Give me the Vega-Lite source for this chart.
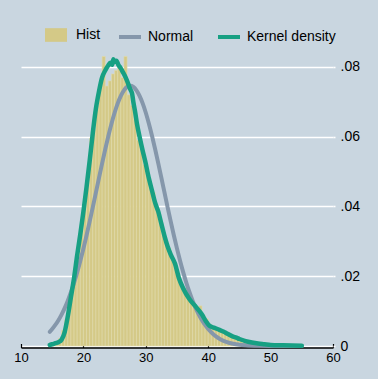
{
  "$schema": "https://vega.github.io/schema/vega-lite/v6.json",
  "width": 312,
  "height": 300,
  "autosize": {"type": "none"},
  "padding": {"left": 21, "top": 46, "right": 45, "bottom": 33},
  "background": "#c9d6e0",
  "config": {
    "view": {"stroke": null},
    "font": "Liberation Sans"
  },
  "datasets": {
    "hist": [
      {"x0": 14.5, "x1": 15.0, "density": 0.0004},
      {"x0": 15.0, "x1": 15.5, "density": 0.0008},
      {"x0": 15.5, "x1": 16.0, "density": 0.0012},
      {"x0": 16.0, "x1": 16.5, "density": 0.0022},
      {"x0": 16.5, "x1": 17.0, "density": 0.0045},
      {"x0": 17.0, "x1": 17.5, "density": 0.0075},
      {"x0": 17.5, "x1": 18.0, "density": 0.012},
      {"x0": 18.0, "x1": 18.5, "density": 0.0165},
      {"x0": 18.5, "x1": 19.0, "density": 0.022},
      {"x0": 19.0, "x1": 19.5, "density": 0.028},
      {"x0": 19.5, "x1": 20.0, "density": 0.034},
      {"x0": 20.0, "x1": 20.5, "density": 0.041},
      {"x0": 20.5, "x1": 21.0, "density": 0.048},
      {"x0": 21.0, "x1": 21.5, "density": 0.0596},
      {"x0": 21.5, "x1": 22.0, "density": 0.062},
      {"x0": 22.0, "x1": 22.5, "density": 0.069},
      {"x0": 22.5, "x1": 23.0, "density": 0.074},
      {"x0": 23.0, "x1": 23.5, "density": 0.083},
      {"x0": 23.5, "x1": 24.0, "density": 0.0745},
      {"x0": 24.0, "x1": 24.5, "density": 0.076},
      {"x0": 24.5, "x1": 25.0, "density": 0.078},
      {"x0": 25.0, "x1": 25.5, "density": 0.079},
      {"x0": 25.5, "x1": 26.0, "density": 0.080},
      {"x0": 26.0, "x1": 26.5, "density": 0.077},
      {"x0": 26.5, "x1": 27.0, "density": 0.083},
      {"x0": 27.0, "x1": 27.5, "density": 0.072},
      {"x0": 27.5, "x1": 28.0, "density": 0.069},
      {"x0": 28.0, "x1": 28.5, "density": 0.065},
      {"x0": 28.5, "x1": 29.0, "density": 0.059},
      {"x0": 29.0, "x1": 29.5, "density": 0.057},
      {"x0": 29.5, "x1": 30.0, "density": 0.052},
      {"x0": 30.0, "x1": 30.5, "density": 0.050},
      {"x0": 30.5, "x1": 31.0, "density": 0.046},
      {"x0": 31.0, "x1": 31.5, "density": 0.044},
      {"x0": 31.5, "x1": 32.0, "density": 0.040},
      {"x0": 32.0, "x1": 32.5, "density": 0.036},
      {"x0": 32.5, "x1": 33.0, "density": 0.032},
      {"x0": 33.0, "x1": 33.5, "density": 0.030},
      {"x0": 33.5, "x1": 34.0, "density": 0.028},
      {"x0": 34.0, "x1": 34.5, "density": 0.025},
      {"x0": 34.5, "x1": 35.0, "density": 0.023},
      {"x0": 35.0, "x1": 35.5, "density": 0.020},
      {"x0": 35.5, "x1": 36.0, "density": 0.017},
      {"x0": 36.0, "x1": 36.5, "density": 0.0165},
      {"x0": 36.5, "x1": 37.0, "density": 0.015},
      {"x0": 37.0, "x1": 37.5, "density": 0.0135},
      {"x0": 37.5, "x1": 38.0, "density": 0.012},
      {"x0": 38.0, "x1": 38.5, "density": 0.0112},
      {"x0": 38.5, "x1": 39.0, "density": 0.0115},
      {"x0": 39.0, "x1": 39.5, "density": 0.0088},
      {"x0": 39.5, "x1": 40.0, "density": 0.0078},
      {"x0": 40.0, "x1": 40.5, "density": 0.0062},
      {"x0": 40.5, "x1": 41.0, "density": 0.0056},
      {"x0": 41.0, "x1": 41.5, "density": 0.0051},
      {"x0": 41.5, "x1": 42.0, "density": 0.0045},
      {"x0": 42.0, "x1": 42.5, "density": 0.0041},
      {"x0": 42.5, "x1": 43.0, "density": 0.0037},
      {"x0": 43.0, "x1": 43.5, "density": 0.0032},
      {"x0": 43.5, "x1": 44.0, "density": 0.0028},
      {"x0": 44.0, "x1": 44.5, "density": 0.0024},
      {"x0": 44.5, "x1": 45.0, "density": 0.0019},
      {"x0": 45.0, "x1": 45.5, "density": 0.0016},
      {"x0": 45.5, "x1": 46.0, "density": 0.0013},
      {"x0": 46.0, "x1": 46.5, "density": 0.0011},
      {"x0": 46.5, "x1": 47.0, "density": 0.0009},
      {"x0": 47.0, "x1": 47.5, "density": 0.0007},
      {"x0": 47.5, "x1": 48.0, "density": 0.0006},
      {"x0": 48.0, "x1": 48.5, "density": 0.0005},
      {"x0": 48.5, "x1": 49.0, "density": 0.0004},
      {"x0": 49.0, "x1": 49.5, "density": 0.0003},
      {"x0": 49.5, "x1": 50.0, "density": 0.0002},
      {"x0": 50.0, "x1": 50.5, "density": 0.0002},
      {"x0": 51.0, "x1": 51.5, "density": 0.0001},
      {"x0": 52.5, "x1": 53.0, "density": 0.0001},
      {"x0": 54.5, "x1": 55.0, "density": 0.0001}
    ],
    "normal": [
      {"x": 14.6, "y": 0.00407},
      {"x": 15.0, "y": 0.00487},
      {"x": 15.5, "y": 0.00603},
      {"x": 16.0, "y": 0.00740},
      {"x": 16.5, "y": 0.00901},
      {"x": 17.0, "y": 0.01087},
      {"x": 17.5, "y": 0.01300},
      {"x": 18.0, "y": 0.01541},
      {"x": 18.5, "y": 0.01812},
      {"x": 19.0, "y": 0.02111},
      {"x": 19.5, "y": 0.02438},
      {"x": 20.0, "y": 0.02791},
      {"x": 20.5, "y": 0.03168},
      {"x": 21.0, "y": 0.03565},
      {"x": 21.5, "y": 0.03976},
      {"x": 22.0, "y": 0.04396},
      {"x": 22.5, "y": 0.04818},
      {"x": 23.0, "y": 0.05235},
      {"x": 23.5, "y": 0.05639},
      {"x": 24.0, "y": 0.06021},
      {"x": 24.5, "y": 0.06372},
      {"x": 25.0, "y": 0.06686},
      {"x": 25.5, "y": 0.06954},
      {"x": 26.0, "y": 0.07170},
      {"x": 26.5, "y": 0.07328},
      {"x": 27.0, "y": 0.07425},
      {"x": 27.5, "y": 0.07457},
      {"x": 28.0, "y": 0.07425},
      {"x": 28.5, "y": 0.07328},
      {"x": 29.0, "y": 0.07170},
      {"x": 29.5, "y": 0.06954},
      {"x": 30.0, "y": 0.06686},
      {"x": 30.5, "y": 0.06372},
      {"x": 31.0, "y": 0.06021},
      {"x": 31.5, "y": 0.05639},
      {"x": 32.0, "y": 0.05235},
      {"x": 32.5, "y": 0.04818},
      {"x": 33.0, "y": 0.04396},
      {"x": 33.5, "y": 0.03976},
      {"x": 34.0, "y": 0.03565},
      {"x": 34.5, "y": 0.03168},
      {"x": 35.0, "y": 0.02791},
      {"x": 35.5, "y": 0.02438},
      {"x": 36.0, "y": 0.02111},
      {"x": 36.5, "y": 0.01812},
      {"x": 37.0, "y": 0.01541},
      {"x": 37.5, "y": 0.01300},
      {"x": 38.0, "y": 0.01087},
      {"x": 38.5, "y": 0.00901},
      {"x": 39.0, "y": 0.00740},
      {"x": 39.5, "y": 0.00603},
      {"x": 40.0, "y": 0.00487},
      {"x": 40.5, "y": 0.00389},
      {"x": 41.0, "y": 0.00309},
      {"x": 41.5, "y": 0.00243},
      {"x": 42.0, "y": 0.00189},
      {"x": 43.0, "y": 0.00112},
      {"x": 44.0, "y": 0.00064},
      {"x": 45.0, "y": 0.00035},
      {"x": 46.0, "y": 0.00019},
      {"x": 48.0, "y": 0.00005},
      {"x": 50.0, "y": 0.00001},
      {"x": 55.0, "y": 0.0}
    ],
    "kde": [
      {"x": 14.6, "y": 0.0003},
      {"x": 15.0, "y": 0.0005},
      {"x": 15.5, "y": 0.0008},
      {"x": 16.0, "y": 0.0011},
      {"x": 16.5, "y": 0.0018},
      {"x": 17.0, "y": 0.0040},
      {"x": 17.5, "y": 0.0085},
      {"x": 18.0, "y": 0.0140},
      {"x": 18.5, "y": 0.0195},
      {"x": 19.0, "y": 0.0260},
      {"x": 19.5, "y": 0.0320},
      {"x": 20.0, "y": 0.0385},
      {"x": 20.5, "y": 0.0455},
      {"x": 21.0, "y": 0.0530},
      {"x": 21.5, "y": 0.0610},
      {"x": 22.0, "y": 0.0680},
      {"x": 22.5, "y": 0.0730},
      {"x": 23.0, "y": 0.0770},
      {"x": 23.5, "y": 0.0790},
      {"x": 24.0, "y": 0.0805},
      {"x": 24.3, "y": 0.0812},
      {"x": 24.6, "y": 0.0806},
      {"x": 24.8, "y": 0.0822},
      {"x": 25.0, "y": 0.0814},
      {"x": 25.3, "y": 0.0818},
      {"x": 25.6, "y": 0.0806},
      {"x": 26.0, "y": 0.0796},
      {"x": 26.3, "y": 0.0786},
      {"x": 26.6, "y": 0.0776},
      {"x": 27.0, "y": 0.0760},
      {"x": 27.5, "y": 0.0736},
      {"x": 27.8, "y": 0.0724},
      {"x": 28.0, "y": 0.0700},
      {"x": 28.3, "y": 0.0670},
      {"x": 28.6, "y": 0.0635},
      {"x": 29.0, "y": 0.0600},
      {"x": 29.5, "y": 0.0560},
      {"x": 29.9, "y": 0.0530},
      {"x": 30.5, "y": 0.0480},
      {"x": 31.0, "y": 0.0445},
      {"x": 31.5, "y": 0.0410},
      {"x": 32.0, "y": 0.0385},
      {"x": 32.5, "y": 0.0350},
      {"x": 33.0, "y": 0.0315},
      {"x": 33.5, "y": 0.0285},
      {"x": 34.0, "y": 0.0262},
      {"x": 34.7, "y": 0.0235},
      {"x": 35.3, "y": 0.0195},
      {"x": 36.0, "y": 0.0165},
      {"x": 36.9, "y": 0.0137},
      {"x": 37.4, "y": 0.0125},
      {"x": 38.0, "y": 0.0113},
      {"x": 38.5, "y": 0.0102},
      {"x": 39.0, "y": 0.0090},
      {"x": 39.6, "y": 0.0072},
      {"x": 40.2, "y": 0.0058},
      {"x": 41.0, "y": 0.0052},
      {"x": 41.8, "y": 0.0046},
      {"x": 42.5, "y": 0.0041},
      {"x": 43.0, "y": 0.0036},
      {"x": 44.0, "y": 0.0027},
      {"x": 44.5, "y": 0.0024},
      {"x": 45.0, "y": 0.0020},
      {"x": 46.0, "y": 0.0014},
      {"x": 47.0, "y": 0.0010},
      {"x": 48.0, "y": 0.0007},
      {"x": 49.0, "y": 0.0005},
      {"x": 50.0, "y": 0.0003},
      {"x": 52.0, "y": 0.0002},
      {"x": 55.0, "y": 0.0001}
    ]
  },
  "layer": [
    {
      "data": {"name": "hist"},
      "mark": {"type": "rect", "stroke": "#e3dcab", "strokeWidth": 0.6},
      "encoding": {
        "x": {
          "field": "x0", "type": "quantitative",
          "scale": {"domain": [10, 60], "nice": false, "zero": false},
          "axis": {
            "orient": "bottom", "title": null, "values": [10, 20, 30, 40, 50, 60],
            "grid": false, "domainColor": "#000", "domainWidth": 1.3,
            "tickColor": "#000", "tickWidth": 1.2, "tickSize": -4, "labelPadding": 8,
            "offset": 1.5, "labelFontSize": 13, "labelColor": "#000", "labelFlush": false
          }
        },
        "x2": {"field": "x1"},
        "y": {
          "field": "density", "type": "quantitative",
          "scale": {"domain": [0, 0.086], "nice": false},
          "axis": {
            "orient": "right", "title": null, "values": [0, 0.02, 0.04, 0.06, 0.08],
            "grid": true, "gridColor": "#ffffff", "gridWidth": 1.6, "gridOpacity": 1,
            "domain": false, "tickColor": "#ffffff", "tickSize": 2, "tickWidth": 1.6,
            "labelPadding": 5, "labelFontSize": 14, "labelColor": "#000",
            "labelAlign": "left", "labelBaseline": "middle",
            "labelExpr": "datum.value === 0 ? '0' : replace(format(datum.value, '.2f'), '0.', '.')"
          }
        },
        "y2": {"datum": 0},
        "fill": {
          "datum": "Hist",
          "scale": {"domain": ["Hist"], "range": ["#d4c987"]},
          "legend": {
            "orient": "none", "legendX": 24, "legendY": -22, "direction": "horizontal",
            "title": null, "labelFontSize": 14, "labelColor": "#000", "symbolSize": 484,
            "symbolType": "M-1,-0.62H1V0.62H-1Z", "symbolStrokeWidth": 0, "symbolOpacity": 1,
            "labelOffset": 9, "padding": 0
          }
        }
      }
    },
    {
      "data": {"name": "normal"},
      "mark": {"type": "line", "strokeWidth": 4, "strokeCap": "round", "interpolate": "monotone"},
      "encoding": {
        "x": {"field": "x", "type": "quantitative"},
        "y": {"field": "y", "type": "quantitative"},
        "stroke": {
          "datum": "Normal",
          "scale": {"domain": ["Normal", "Kernel density"], "range": ["#8597ab", "#17a083"]},
          "legend": {
            "orient": "none", "legendX": 96, "legendY": -22, "direction": "horizontal",
            "title": null, "labelFontSize": 14, "labelColor": "#000", "symbolSize": 484,
            "symbolType": "stroke", "symbolStrokeWidth": 4, "symbolOpacity": 1,
            "labelOffset": 5, "columnPadding": 16, "padding": 0
          }
        }
      }
    },
    {
      "data": {"name": "kde"},
      "mark": {"type": "line", "strokeWidth": 4.5, "strokeCap": "round", "interpolate": "monotone"},
      "encoding": {
        "x": {"field": "x", "type": "quantitative"},
        "y": {"field": "y", "type": "quantitative"},
        "stroke": {"datum": "Kernel density"}
      }
    }
  ]
}
